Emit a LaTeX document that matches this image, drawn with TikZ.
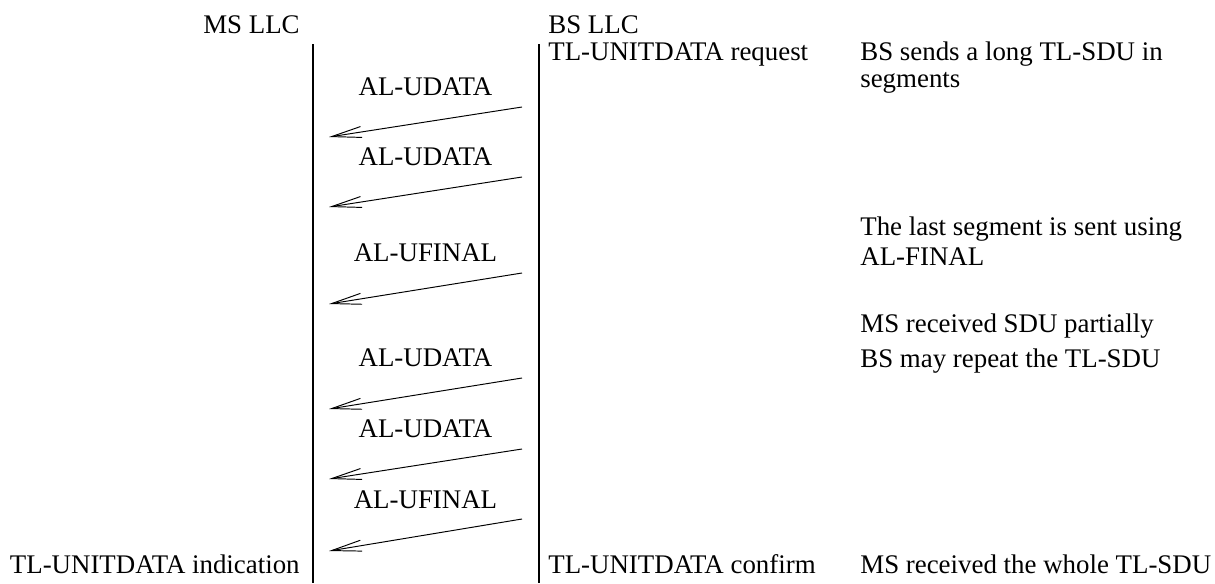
\documentclass[tikz,border=0pt]{standalone}
\usepackage{fontspec}
\setmainfont{Liberation Serif}
\usetikzlibrary{arrows.meta, positioning}

\tikzset{
    txt/.style={inner sep=0pt, anchor=base west},
    lifeline/.style={line width=1pt},
    msg/.style={->, line width=0.55pt},
    msglabel/.style={inner sep=0pt, above=0.52cm}
}

\begin{document}
\begin{tikzpicture}[x=0.02cm, y=-0.02cm, >={Straight Barb[length=0.6cm, width=0.22cm]}, font=\fontsize{15.3}{18.4}\selectfont]
    \useasboundingbox (0,0) rectangle (1215,583);

    % entities
    \node (ms) [txt, anchor=base east] at (300,33) {MS LLC};
    \node (bs) [txt] at (548,33) {BS LLC};

    % lifelines
    \coordinate (mstop) at (313,44);
    \coordinate (msbot) at (313,583);
    \coordinate (bstop) at (539,44);
    \coordinate (bsbot) at (539,583);
    \draw[lifeline] (mstop) -- (msbot);
    \draw[lifeline] (bstop) -- (bsbot);

    % primitives at the service boundary
    \node (req) [txt] at (548,60) {TL-UNITDATA request};
    \node (ind) [txt, anchor=base east] at (300,573) {TL-UNITDATA indication};
    \node (conf) [txt] at (548,573) {TL-UNITDATA confirm};

    % comments
    \node (c1) [txt] at (860,60) {BS sends a long TL-SDU in};
    \node (c2) [txt] at (860,87) {segments};
    \node (c3) [txt] at (860,235) {The last segment is sent using};
    \node (c4) [txt] at (860,265) {AL-FINAL};
    \node (c5) [txt] at (860,332) {MS received SDU partially};
    \node (c6) [txt] at (860,367) {BS may repeat the TL-SDU};
    \node (c7) [txt] at (860,573) {MS received the whole TL-SDU};

    % segments
    \coordinate (b1) at (522,107);  \coordinate (m1) at (329,137);
    \coordinate (b2) at (522,177);  \coordinate (m2) at (329,207);
    \coordinate (b3) at (522,273);  \coordinate (m3) at (329,304);
    \coordinate (b4) at (522,378);  \coordinate (m4) at (329,409);
    \coordinate (b5) at (522,449);  \coordinate (m5) at (329,479);
    \coordinate (b6) at (522,519);  \coordinate (m6) at (329,551);

    \draw[msg] (b1) -- node[msglabel] (a1) {AL-UDATA} (m1);
    \draw[msg] (b2) -- node[msglabel] (a2) {AL-UDATA} (m2);
    \draw[msg] (b3) -- node[msglabel] (a3) {AL-UFINAL} (m3);
    \draw[msg] (b4) -- node[msglabel] (a4) {AL-UDATA} (m4);
    \draw[msg] (b5) -- node[msglabel] (a5) {AL-UDATA} (m5);
    \draw[msg] (b6) -- node[msglabel] (a6) {AL-UFINAL} (m6);
\end{tikzpicture}
\end{document}
